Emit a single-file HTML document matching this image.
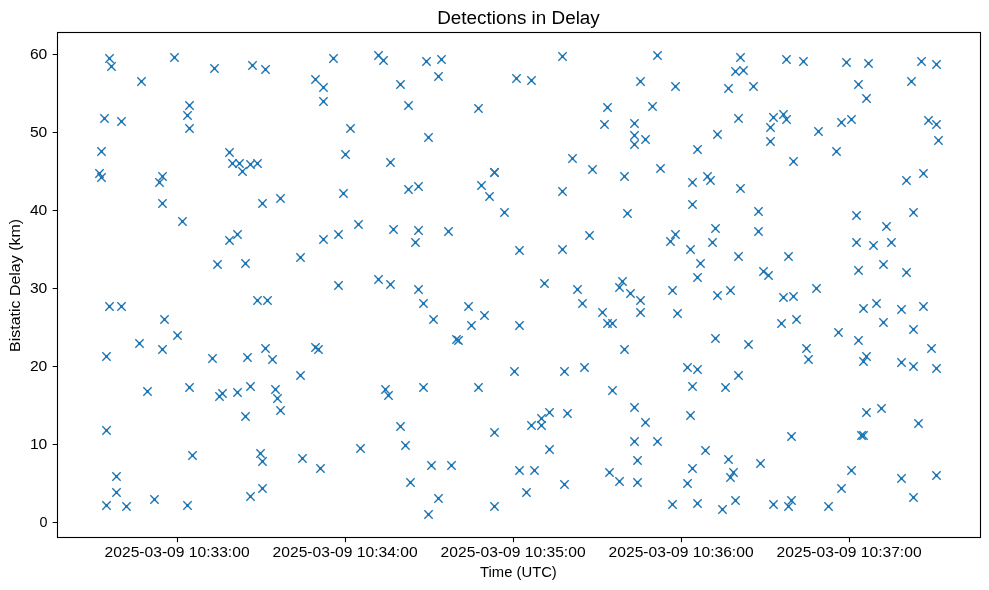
<!DOCTYPE html>
<html><head><meta charset="utf-8"><title>Detections in Delay</title>
<style>
html,body{margin:0;padding:0;background:#fff;width:989px;height:590px;overflow:hidden}
svg{display:block;will-change:transform}
text{font-family:"Liberation Sans",sans-serif;fill:#000}
</style></head><body>
<svg width="989" height="590" viewBox="0 0 989 590">
<rect width="989" height="590" fill="#fff"/>
<defs><g id="m"><path d="M-4.17 -4.17L4.17 4.17M-4.17 4.17L4.17 -4.17" fill="none" stroke="#1f77b4" stroke-width="1.4" stroke-linecap="butt"/><rect x="-1.5" y="-1.5" width="3" height="3" fill="#1f77b4"/></g></defs>
<g><use href="#m" x="109.5" y="58.5"/><use href="#m" x="111.5" y="66.5"/><use href="#m" x="174.5" y="57.5"/><use href="#m" x="141.5" y="81.5"/><use href="#m" x="214.5" y="68.5"/><use href="#m" x="252.5" y="65.5"/><use href="#m" x="265.5" y="69.5"/><use href="#m" x="189.5" y="105.5"/><use href="#m" x="187.5" y="115.5"/><use href="#m" x="189.5" y="128.5"/><use href="#m" x="104.5" y="118.5"/><use href="#m" x="121.5" y="121.5"/><use href="#m" x="101.5" y="151.5"/><use href="#m" x="229.5" y="152.5"/><use href="#m" x="333.5" y="58.5"/><use href="#m" x="378.5" y="55.5"/><use href="#m" x="383.5" y="60.5"/><use href="#m" x="426.5" y="61.5"/><use href="#m" x="441.5" y="59.5"/><use href="#m" x="315.5" y="79.5"/><use href="#m" x="323.5" y="87.5"/><use href="#m" x="438.5" y="76.5"/><use href="#m" x="400.5" y="84.5"/><use href="#m" x="323.5" y="101.5"/><use href="#m" x="408.5" y="105.5"/><use href="#m" x="478.5" y="108.5"/><use href="#m" x="350.5" y="128.5"/><use href="#m" x="428.5" y="137.5"/><use href="#m" x="345.5" y="154.5"/><use href="#m" x="390.5" y="162.5"/><use href="#m" x="562.5" y="56.5"/><use href="#m" x="657.5" y="55.5"/><use href="#m" x="516.5" y="78.5"/><use href="#m" x="531.5" y="80.5"/><use href="#m" x="640.5" y="81.5"/><use href="#m" x="675.5" y="86.5"/><use href="#m" x="607.5" y="107.5"/><use href="#m" x="652.5" y="106.5"/><use href="#m" x="604.5" y="124.5"/><use href="#m" x="634.5" y="123.5"/><use href="#m" x="634.5" y="135.5"/><use href="#m" x="645.5" y="139.5"/><use href="#m" x="634.5" y="144.5"/><use href="#m" x="572.5" y="158.5"/><use href="#m" x="740.5" y="57.5"/><use href="#m" x="786.5" y="59.5"/><use href="#m" x="803.5" y="61.5"/><use href="#m" x="846.5" y="62.5"/><use href="#m" x="868.5" y="63.5"/><use href="#m" x="735.5" y="71.5"/><use href="#m" x="743.5" y="70.5"/><use href="#m" x="728.5" y="88.5"/><use href="#m" x="753.5" y="86.5"/><use href="#m" x="858.5" y="84.5"/><use href="#m" x="866.5" y="98.5"/><use href="#m" x="738.5" y="118.5"/><use href="#m" x="773.5" y="117.5"/><use href="#m" x="783.5" y="114.5"/><use href="#m" x="786.5" y="119.5"/><use href="#m" x="770.5" y="127.5"/><use href="#m" x="841.5" y="122.5"/><use href="#m" x="851.5" y="119.5"/><use href="#m" x="818.5" y="131.5"/><use href="#m" x="717.5" y="134.5"/><use href="#m" x="770.5" y="141.5"/><use href="#m" x="697.5" y="149.5"/><use href="#m" x="836.5" y="151.5"/><use href="#m" x="921.5" y="61.5"/><use href="#m" x="936.5" y="64.5"/><use href="#m" x="911.5" y="81.5"/><use href="#m" x="928.5" y="120.5"/><use href="#m" x="936.5" y="124.5"/><use href="#m" x="938.5" y="140.5"/><use href="#m" x="232.5" y="163.5"/><use href="#m" x="239.5" y="163.5"/><use href="#m" x="250.5" y="164.5"/><use href="#m" x="257.5" y="163.5"/><use href="#m" x="242.5" y="171.5"/><use href="#m" x="99.5" y="173.5"/><use href="#m" x="101.5" y="177.5"/><use href="#m" x="162.5" y="176.5"/><use href="#m" x="159.5" y="182.5"/><use href="#m" x="162.5" y="203.5"/><use href="#m" x="262.5" y="203.5"/><use href="#m" x="280.5" y="198.5"/><use href="#m" x="182.5" y="221.5"/><use href="#m" x="237.5" y="234.5"/><use href="#m" x="229.5" y="240.5"/><use href="#m" x="217.5" y="264.5"/><use href="#m" x="245.5" y="263.5"/><use href="#m" x="343.5" y="193.5"/><use href="#m" x="408.5" y="189.5"/><use href="#m" x="418.5" y="186.5"/><use href="#m" x="481.5" y="185.5"/><use href="#m" x="358.5" y="224.5"/><use href="#m" x="393.5" y="229.5"/><use href="#m" x="418.5" y="230.5"/><use href="#m" x="448.5" y="231.5"/><use href="#m" x="338.5" y="234.5"/><use href="#m" x="323.5" y="239.5"/><use href="#m" x="415.5" y="242.5"/><use href="#m" x="300.5" y="257.5"/><use href="#m" x="378.5" y="279.5"/><use href="#m" x="494.5" y="172.5"/><use href="#m" x="489.5" y="196.5"/><use href="#m" x="504.5" y="212.5"/><use href="#m" x="592.5" y="169.5"/><use href="#m" x="660.5" y="168.5"/><use href="#m" x="624.5" y="176.5"/><use href="#m" x="562.5" y="191.5"/><use href="#m" x="627.5" y="213.5"/><use href="#m" x="589.5" y="235.5"/><use href="#m" x="675.5" y="234.5"/><use href="#m" x="670.5" y="241.5"/><use href="#m" x="519.5" y="250.5"/><use href="#m" x="562.5" y="249.5"/><use href="#m" x="793.5" y="161.5"/><use href="#m" x="692.5" y="182.5"/><use href="#m" x="707.5" y="176.5"/><use href="#m" x="710.5" y="180.5"/><use href="#m" x="740.5" y="188.5"/><use href="#m" x="692.5" y="204.5"/><use href="#m" x="758.5" y="211.5"/><use href="#m" x="856.5" y="215.5"/><use href="#m" x="715.5" y="228.5"/><use href="#m" x="758.5" y="231.5"/><use href="#m" x="712.5" y="242.5"/><use href="#m" x="690.5" y="249.5"/><use href="#m" x="856.5" y="242.5"/><use href="#m" x="873.5" y="245.5"/><use href="#m" x="738.5" y="256.5"/><use href="#m" x="788.5" y="256.5"/><use href="#m" x="700.5" y="263.5"/><use href="#m" x="883.5" y="264.5"/><use href="#m" x="858.5" y="270.5"/><use href="#m" x="763.5" y="271.5"/><use href="#m" x="768.5" y="275.5"/><use href="#m" x="697.5" y="277.5"/><use href="#m" x="906.5" y="180.5"/><use href="#m" x="923.5" y="173.5"/><use href="#m" x="913.5" y="212.5"/><use href="#m" x="886.5" y="226.5"/><use href="#m" x="891.5" y="242.5"/><use href="#m" x="906.5" y="272.5"/><use href="#m" x="109.5" y="306.5"/><use href="#m" x="121.5" y="306.5"/><use href="#m" x="257.5" y="300.5"/><use href="#m" x="267.5" y="300.5"/><use href="#m" x="164.5" y="319.5"/><use href="#m" x="177.5" y="335.5"/><use href="#m" x="139.5" y="343.5"/><use href="#m" x="162.5" y="349.5"/><use href="#m" x="106.5" y="356.5"/><use href="#m" x="212.5" y="358.5"/><use href="#m" x="247.5" y="357.5"/><use href="#m" x="265.5" y="348.5"/><use href="#m" x="272.5" y="359.5"/><use href="#m" x="147.5" y="391.5"/><use href="#m" x="189.5" y="387.5"/><use href="#m" x="219.5" y="396.5"/><use href="#m" x="222.5" y="393.5"/><use href="#m" x="237.5" y="392.5"/><use href="#m" x="250.5" y="386.5"/><use href="#m" x="275.5" y="389.5"/><use href="#m" x="277.5" y="398.5"/><use href="#m" x="338.5" y="285.5"/><use href="#m" x="390.5" y="284.5"/><use href="#m" x="418.5" y="289.5"/><use href="#m" x="423.5" y="303.5"/><use href="#m" x="433.5" y="319.5"/><use href="#m" x="468.5" y="306.5"/><use href="#m" x="484.5" y="315.5"/><use href="#m" x="471.5" y="325.5"/><use href="#m" x="456.5" y="339.5"/><use href="#m" x="458.5" y="340.5"/><use href="#m" x="315.5" y="347.5"/><use href="#m" x="318.5" y="349.5"/><use href="#m" x="300.5" y="375.5"/><use href="#m" x="385.5" y="389.5"/><use href="#m" x="388.5" y="395.5"/><use href="#m" x="423.5" y="387.5"/><use href="#m" x="478.5" y="387.5"/><use href="#m" x="544.5" y="283.5"/><use href="#m" x="577.5" y="289.5"/><use href="#m" x="622.5" y="281.5"/><use href="#m" x="619.5" y="287.5"/><use href="#m" x="630.5" y="293.5"/><use href="#m" x="640.5" y="300.5"/><use href="#m" x="672.5" y="290.5"/><use href="#m" x="582.5" y="303.5"/><use href="#m" x="602.5" y="312.5"/><use href="#m" x="640.5" y="312.5"/><use href="#m" x="677.5" y="313.5"/><use href="#m" x="519.5" y="325.5"/><use href="#m" x="607.5" y="323.5"/><use href="#m" x="612.5" y="323.5"/><use href="#m" x="624.5" y="349.5"/><use href="#m" x="514.5" y="371.5"/><use href="#m" x="564.5" y="371.5"/><use href="#m" x="584.5" y="367.5"/><use href="#m" x="612.5" y="390.5"/><use href="#m" x="717.5" y="295.5"/><use href="#m" x="730.5" y="290.5"/><use href="#m" x="783.5" y="297.5"/><use href="#m" x="793.5" y="296.5"/><use href="#m" x="816.5" y="288.5"/><use href="#m" x="863.5" y="308.5"/><use href="#m" x="876.5" y="303.5"/><use href="#m" x="883.5" y="322.5"/><use href="#m" x="781.5" y="323.5"/><use href="#m" x="796.5" y="319.5"/><use href="#m" x="838.5" y="332.5"/><use href="#m" x="858.5" y="340.5"/><use href="#m" x="715.5" y="338.5"/><use href="#m" x="748.5" y="344.5"/><use href="#m" x="806.5" y="348.5"/><use href="#m" x="808.5" y="359.5"/><use href="#m" x="866.5" y="356.5"/><use href="#m" x="863.5" y="361.5"/><use href="#m" x="687.5" y="367.5"/><use href="#m" x="697.5" y="369.5"/><use href="#m" x="738.5" y="375.5"/><use href="#m" x="692.5" y="386.5"/><use href="#m" x="725.5" y="387.5"/><use href="#m" x="901.5" y="309.5"/><use href="#m" x="923.5" y="306.5"/><use href="#m" x="913.5" y="329.5"/><use href="#m" x="931.5" y="348.5"/><use href="#m" x="901.5" y="362.5"/><use href="#m" x="913.5" y="366.5"/><use href="#m" x="936.5" y="368.5"/><use href="#m" x="280.5" y="410.5"/><use href="#m" x="245.5" y="416.5"/><use href="#m" x="106.5" y="430.5"/><use href="#m" x="192.5" y="455.5"/><use href="#m" x="260.5" y="453.5"/><use href="#m" x="262.5" y="461.5"/><use href="#m" x="116.5" y="476.5"/><use href="#m" x="116.5" y="492.5"/><use href="#m" x="106.5" y="505.5"/><use href="#m" x="126.5" y="506.5"/><use href="#m" x="154.5" y="499.5"/><use href="#m" x="187.5" y="505.5"/><use href="#m" x="250.5" y="496.5"/><use href="#m" x="262.5" y="488.5"/><use href="#m" x="400.5" y="426.5"/><use href="#m" x="405.5" y="445.5"/><use href="#m" x="360.5" y="448.5"/><use href="#m" x="302.5" y="458.5"/><use href="#m" x="320.5" y="468.5"/><use href="#m" x="431.5" y="465.5"/><use href="#m" x="451.5" y="465.5"/><use href="#m" x="410.5" y="482.5"/><use href="#m" x="438.5" y="498.5"/><use href="#m" x="428.5" y="514.5"/><use href="#m" x="494.5" y="432.5"/><use href="#m" x="494.5" y="506.5"/><use href="#m" x="531.5" y="425.5"/><use href="#m" x="541.5" y="418.5"/><use href="#m" x="549.5" y="412.5"/><use href="#m" x="541.5" y="425.5"/><use href="#m" x="567.5" y="413.5"/><use href="#m" x="549.5" y="449.5"/><use href="#m" x="519.5" y="470.5"/><use href="#m" x="534.5" y="470.5"/><use href="#m" x="526.5" y="492.5"/><use href="#m" x="564.5" y="484.5"/><use href="#m" x="634.5" y="407.5"/><use href="#m" x="645.5" y="422.5"/><use href="#m" x="634.5" y="441.5"/><use href="#m" x="657.5" y="441.5"/><use href="#m" x="637.5" y="460.5"/><use href="#m" x="609.5" y="472.5"/><use href="#m" x="619.5" y="481.5"/><use href="#m" x="637.5" y="482.5"/><use href="#m" x="672.5" y="504.5"/><use href="#m" x="690.5" y="415.5"/><use href="#m" x="705.5" y="450.5"/><use href="#m" x="692.5" y="468.5"/><use href="#m" x="687.5" y="483.5"/><use href="#m" x="728.5" y="459.5"/><use href="#m" x="733.5" y="472.5"/><use href="#m" x="730.5" y="477.5"/><use href="#m" x="697.5" y="503.5"/><use href="#m" x="722.5" y="509.5"/><use href="#m" x="735.5" y="500.5"/><use href="#m" x="760.5" y="463.5"/><use href="#m" x="791.5" y="436.5"/><use href="#m" x="773.5" y="504.5"/><use href="#m" x="791.5" y="500.5"/><use href="#m" x="788.5" y="506.5"/><use href="#m" x="828.5" y="506.5"/><use href="#m" x="841.5" y="488.5"/><use href="#m" x="851.5" y="470.5"/><use href="#m" x="861.5" y="435.5"/><use href="#m" x="863.5" y="435.5"/><use href="#m" x="866.5" y="412.5"/><use href="#m" x="881.5" y="408.5"/><use href="#m" x="918.5" y="423.5"/><use href="#m" x="901.5" y="478.5"/><use href="#m" x="936.5" y="475.5"/><use href="#m" x="913.5" y="497.5"/><use href="#m" x="494.5" y="172.5"/></g>
<rect x="57.5" y="32.5" width="923.00" height="505.00" fill="none" stroke="#000" stroke-width="1.11" stroke-linejoin="miter"/>
<path d="M52.64 522.5H57.5M52.64 444.5H57.5M52.64 366.5H57.5M52.64 288.5H57.5M52.64 210.5H57.5M52.64 132.5H57.5M52.64 54.5H57.5M177.5 537.5V542.36M345.5 537.5V542.36M513.5 537.5V542.36M681.5 537.5V542.36M849.5 537.5V542.36" fill="none" stroke="#000" stroke-width="1.11"/>
<g>
<text x="518.5" y="23.7" font-size="17.6" text-anchor="middle" textLength="162.6" lengthAdjust="spacingAndGlyphs">Detections in Delay</text>
<text x="177.10" y="557.0" font-size="14.5" text-anchor="middle" textLength="145.0" lengthAdjust="spacingAndGlyphs">2025-03-09 10:33:00</text>
<text x="345.10" y="557.0" font-size="14.5" text-anchor="middle" textLength="145.0" lengthAdjust="spacingAndGlyphs">2025-03-09 10:34:00</text>
<text x="513.10" y="557.0" font-size="14.5" text-anchor="middle" textLength="145.0" lengthAdjust="spacingAndGlyphs">2025-03-09 10:35:00</text>
<text x="681.10" y="557.0" font-size="14.5" text-anchor="middle" textLength="145.0" lengthAdjust="spacingAndGlyphs">2025-03-09 10:36:00</text>
<text x="849.10" y="557.0" font-size="14.5" text-anchor="middle" textLength="145.0" lengthAdjust="spacingAndGlyphs">2025-03-09 10:37:00</text>
<text x="47.599999999999994" y="527.20" font-size="14.5" text-anchor="end" textLength="8.0" lengthAdjust="spacingAndGlyphs">0</text>
<text x="47.3" y="449.20" font-size="14.5" text-anchor="end" textLength="17.4" lengthAdjust="spacingAndGlyphs">10</text>
<text x="47.3" y="371.20" font-size="14.5" text-anchor="end" textLength="17.4" lengthAdjust="spacingAndGlyphs">20</text>
<text x="47.3" y="293.20" font-size="14.5" text-anchor="end" textLength="17.4" lengthAdjust="spacingAndGlyphs">30</text>
<text x="47.3" y="215.20" font-size="14.5" text-anchor="end" textLength="17.4" lengthAdjust="spacingAndGlyphs">40</text>
<text x="47.3" y="137.20" font-size="14.5" text-anchor="end" textLength="17.4" lengthAdjust="spacingAndGlyphs">50</text>
<text x="47.3" y="59.20" font-size="14.5" text-anchor="end" textLength="17.4" lengthAdjust="spacingAndGlyphs">60</text>
<text x="518.45" y="576.7" font-size="14.5" text-anchor="middle" textLength="76.7" lengthAdjust="spacingAndGlyphs">Time (UTC)</text>
<text transform="translate(20.1 285.45) rotate(-90)" x="0" y="0" font-size="14.5" text-anchor="middle" textLength="132.9" lengthAdjust="spacingAndGlyphs">Bistatic Delay (km)</text>
</g>
</svg>
</body></html>
